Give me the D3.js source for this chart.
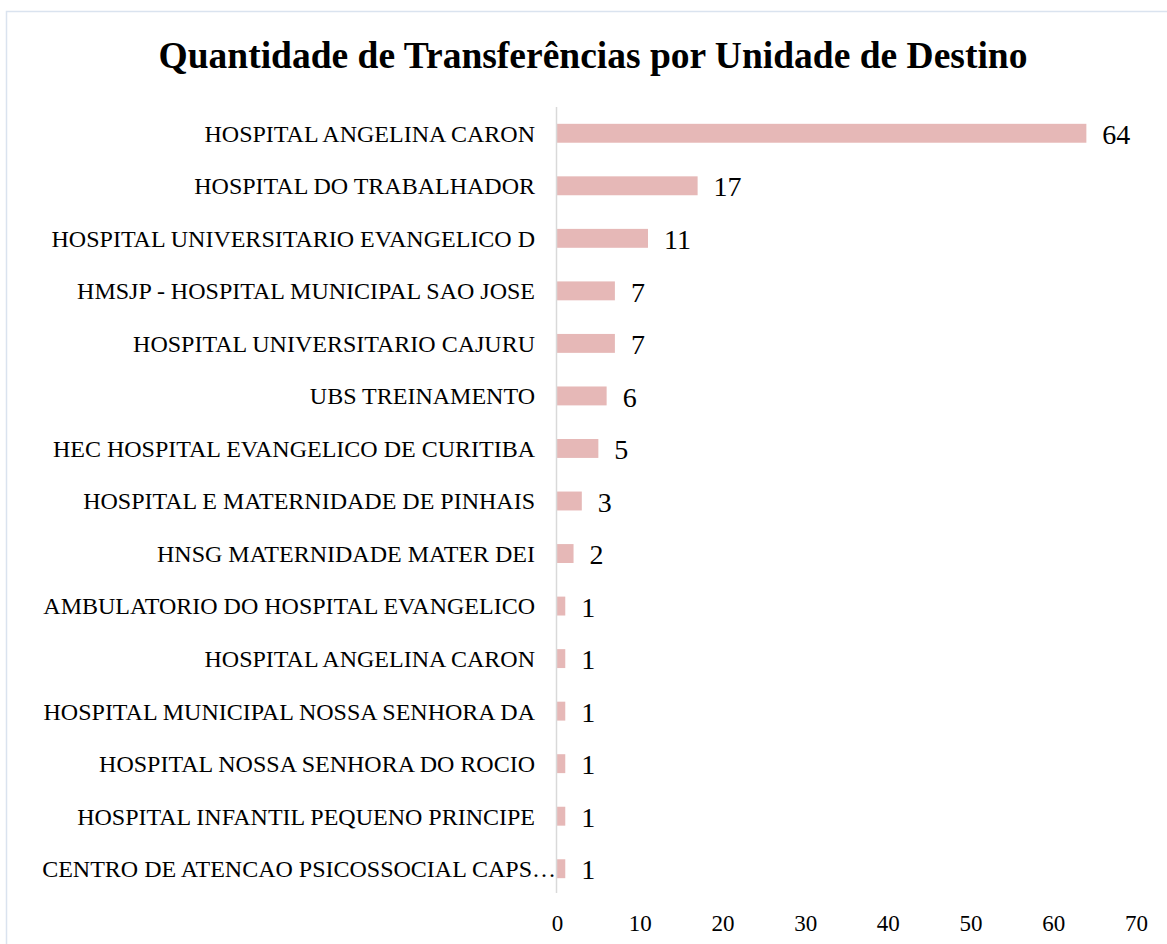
<!DOCTYPE html>
<html>
<head>
<meta charset="utf-8">
<script src="https://cdn.jsdelivr.net/npm/d3@7"></script>
<style>
  body { margin: 0; background: #fff; }
  svg { display: block; }
</style>
</head>
<body>
<script>
// Data
const units = [
  "HOSPITAL ANGELINA CARON",
  "HOSPITAL DO TRABALHADOR",
  "HOSPITAL UNIVERSITARIO EVANGELICO D",
  "HMSJP - HOSPITAL MUNICIPAL SAO JOSE",
  "HOSPITAL UNIVERSITARIO CAJURU",
  "UBS TREINAMENTO",
  "HEC HOSPITAL EVANGELICO DE CURITIBA",
  "HOSPITAL E MATERNIDADE DE PINHAIS",
  "HNSG MATERNIDADE MATER DEI",
  "AMBULATORIO DO HOSPITAL EVANGELICO",
  "HOSPITAL ANGELINA CARON",
  "HOSPITAL MUNICIPAL NOSSA SENHORA DA",
  "HOSPITAL NOSSA SENHORA DO ROCIO",
  "HOSPITAL INFANTIL PEQUENO PRINCIPE",
  "CENTRO DE ATENCAO PSICOSSOCIAL CAPS…"
];
const transfers = [64, 17, 11, 7, 7, 6, 5, 3, 2, 1, 1, 1, 1, 1, 1];
const xTicks = [0, 10, 20, 30, 40, 50, 60, 70];

const width = 1167;
const height = 944;
const font = "'Liberation Serif', 'Times New Roman', serif";

const svg = d3.select("body").append("svg")
  .attr("width", width)
  .attr("height", height);

// chart frame (runs off the right and bottom edge)
svg.append("rect")
  .attr("x", 6.5).attr("y", 11.5)
  .attr("width", width + 10).attr("height", height + 10)
  .attr("fill", "#fff")
  .attr("stroke", "#dae3ef")
  .attr("stroke-width", 1.5);

svg.append("text")
  .attr("x", 593).attr("y", 68)
  .attr("text-anchor", "middle")
  .style("font-family", font)
  .style("font-weight", "bold")
  .style("font-size", "37.5px")
  .text("Quantidade de Transferências por Unidade de Destino");

const x = d3.scaleLinear().domain([0, 70]).range([557, 1136]);
const y = d3.scaleBand()
  .domain(d3.range(units.length))
  .range([107, 895])
  .paddingInner(0.64)
  .paddingOuter(0.32);

// bars
svg.selectAll("rect.bar")
  .data(transfers)
  .enter()
  .append("rect")
  .attr("class", "bar")
  .attr("x", x(0))
  .attr("y", (d, i) => y(i))
  .attr("width", d => x(d) - x(0))
  .attr("height", y.bandwidth())
  .attr("fill", "#e6b8b7");

// category labels (the truncated one spills up to the axis, like Excel does)
svg.selectAll("text.cat")
  .data(units)
  .enter()
  .append("text")
  .attr("class", "cat")
  .attr("x", d => d.endsWith("…") ? 556 : 535)
  .attr("y", (d, i) => y(i) + y.bandwidth() / 2)
  .attr("dy", "0.35em")
  .attr("text-anchor", "end")
  .style("font-family", font)
  .style("font-size", "24px")
  .text(d => d);

// vertical axis line
svg.append("line")
  .attr("x1", x(0) - 0.5).attr("x2", x(0) - 0.5)
  .attr("y1", 107).attr("y2", 893)
  .attr("stroke", "#d9d9d9")
  .attr("stroke-width", 1.5);

// value labels
svg.selectAll("text.val")
  .data(transfers)
  .enter()
  .append("text")
  .attr("class", "val")
  .attr("x", d => x(d) + 16)
  .attr("y", (d, i) => y(i) + y.bandwidth() / 2)
  .attr("dy", "0.38em")
  .style("font-family", font)
  .style("font-size", "28px")
  .text(d => d);

// x axis tick labels
const xAxis = d3.axisBottom(x).tickValues(xTicks).tickSize(0).tickPadding(0);
const gx = svg.append("g")
  .attr("transform", "translate(0, 923)")
  .call(xAxis);
gx.select(".domain").remove();
gx.selectAll("text")
  .attr("dy", "0.35em")
  .style("font-family", font)
  .style("font-size", "23px")
  .attr("fill", "#000");
</script>
</body>
</html>
